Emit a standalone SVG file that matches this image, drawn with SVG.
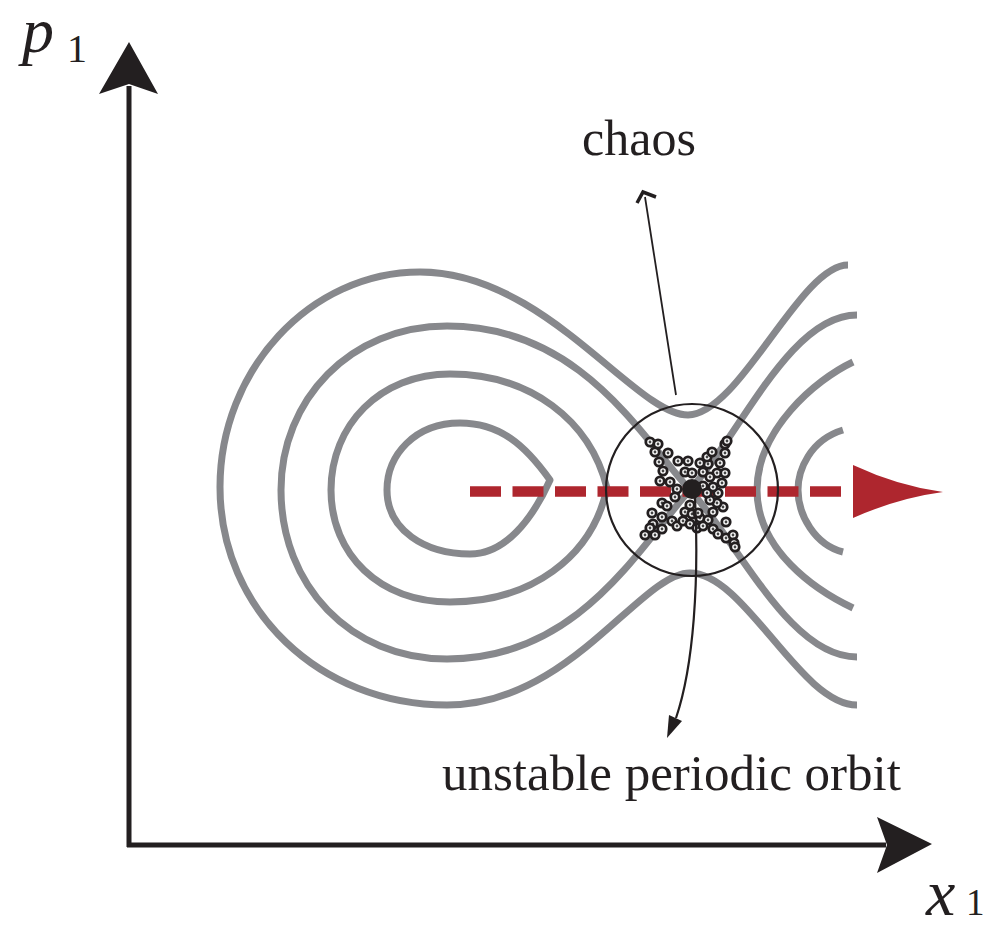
<svg xmlns="http://www.w3.org/2000/svg" xmlns:xlink="http://www.w3.org/1999/xlink" width="990" height="941" viewBox="0 0 990 941">
<style>
.orbit{fill:none;stroke:#87888c;stroke-width:7;stroke-linecap:butt;stroke-linejoin:round}
.axis{fill:none;stroke:#231f20;stroke-width:5}
.lbl{font-family:"Liberation Serif","Times New Roman",serif;fill:#231f20}
</style>
<defs>
<g id="m"><circle r="4.2" fill="#fff" stroke="#231f20" stroke-width="2.8"/><circle r="1.4" fill="#444"/></g>
</defs>
<rect width="990" height="941" fill="#fff"/>
<g id="orbits">
<path class="orbit" d="M848,265 C800,265 740,414 688,415 C635,415 545,272 420,272 C310,272 220,370 220,487 C220,610 320,705 447,705 C570,705 640,573 690,573 C745,573 800,705 857,705"/>
<path class="orbit" d="M690,490 C640,435 580,326 447,326 C350,326 281,400 281,490 C281,585 350,659 447,659 C580,659 640,545 690,490 Z"/>
<path class="orbit" d="M690,490 C740,435 790,315 857,315"/>
<path class="orbit" d="M690,490 C740,545 790,657 857,657"/>
<path class="orbit" d="M607,488 C590,420 530,374 450,374 C380,374 331,425 331,490 C331,555 380,602 450,602 C530,602 592,558 607,488 Z"/>
<path class="orbit" d="M550,480 C525,445 500,423 460,423 C415,423 387,455 387,490 C387,530 425,554 470,554 C505,554 532,520 550,480 Z"/>
<path class="orbit" d="M843,430 C810,440 798,470 798,490 C798,515 815,545 843,552"/>
<path class="orbit" d="M853,362 C815,380 757,430 757,490 C757,550 815,590 853,608"/>
</g>
<g id="flow-arrow">
<line x1="470" y1="491.5" x2="852" y2="491.5" stroke="#ae262e" stroke-width="10.5" stroke-dasharray="31 11.5"/>
<path d="M853,465 Q898,486 943,492 Q898,498 853,518 Z" fill="#ae262e"/>
</g>
<g id="region">
<circle cx="692" cy="490" r="86" fill="none" stroke="#231f20" stroke-width="2.2"/>
</g>
<g id="chaos-points">
<use xlink:href="#m" x="650" y="442"/><use xlink:href="#m" x="658" y="444"/><use xlink:href="#m" x="655" y="452"/><use xlink:href="#m" x="668" y="453"/>
<use xlink:href="#m" x="659" y="462"/><use xlink:href="#m" x="678" y="461"/><use xlink:href="#m" x="688" y="461"/><use xlink:href="#m" x="663" y="471"/>
<use xlink:href="#m" x="685" y="472"/><use xlink:href="#m" x="692" y="473"/><use xlink:href="#m" x="660" y="481"/><use xlink:href="#m" x="670" y="482"/>
<use xlink:href="#m" x="677" y="489"/><use xlink:href="#m" x="675" y="497"/><use xlink:href="#m" x="662" y="503"/><use xlink:href="#m" x="667" y="506"/>
<use xlink:href="#m" x="652" y="513"/><use xlink:href="#m" x="662" y="517"/><use xlink:href="#m" x="653" y="524"/><use xlink:href="#m" x="650" y="528"/>
<use xlink:href="#m" x="662" y="529"/><use xlink:href="#m" x="645" y="535"/><use xlink:href="#m" x="655" y="535"/><use xlink:href="#m" x="672" y="521"/>
<use xlink:href="#m" x="677" y="526"/><use xlink:href="#m" x="683" y="521"/><use xlink:href="#m" x="685" y="512"/><use xlink:href="#m" x="690" y="505"/>
<use xlink:href="#m" x="692" y="514"/><use xlink:href="#m" x="690" y="524"/><use xlink:href="#m" x="697" y="528"/><use xlink:href="#m" x="700" y="518"/>
<use xlink:href="#m" x="708" y="520"/><use xlink:href="#m" x="703" y="526"/><use xlink:href="#m" x="713" y="529"/><use xlink:href="#m" x="718" y="534"/>
<use xlink:href="#m" x="726" y="538"/><use xlink:href="#m" x="733" y="535"/><use xlink:href="#m" x="734" y="543"/><use xlink:href="#m" x="735" y="547"/>
<use xlink:href="#m" x="726" y="522"/><use xlink:href="#m" x="723" y="507"/><use xlink:href="#m" x="713" y="512"/><use xlink:href="#m" x="717" y="503"/>
<use xlink:href="#m" x="710" y="500"/><use xlink:href="#m" x="718" y="493"/><use xlink:href="#m" x="713" y="487"/><use xlink:href="#m" x="722" y="483"/>
<use xlink:href="#m" x="717" y="473"/><use xlink:href="#m" x="725" y="473"/><use xlink:href="#m" x="720" y="463"/><use xlink:href="#m" x="708" y="464"/>
<use xlink:href="#m" x="700" y="463"/><use xlink:href="#m" x="707" y="457"/><use xlink:href="#m" x="712" y="452"/><use xlink:href="#m" x="725" y="453"/>
<use xlink:href="#m" x="725" y="444"/><use xlink:href="#m" x="727" y="441"/><use xlink:href="#m" x="703" y="472"/><use xlink:href="#m" x="710" y="477"/>
<use xlink:href="#m" x="703" y="486"/><use xlink:href="#m" x="707" y="493"/><use xlink:href="#m" x="698" y="513"/>
</g>
<g id="orbit-point">
<circle cx="692" cy="489" r="10" fill="#231f20"/>
</g>
<g id="connectors">
<path d="M676,395 L645,197" fill="none" stroke="#231f20" stroke-width="1.8"/>
<polyline points="637,203 643,192 656,197" fill="none" stroke="#231f20" stroke-width="3.5"/>
<path d="M695,498 C699,580 694,665 676,718" fill="none" stroke="#231f20" stroke-width="2.2"/>
<path d="M667,738 L682,721 L669,715 Z" fill="#231f20"/>
</g>
<g id="axes">
<line class="axis" x1="129" y1="86" x2="129" y2="847"/>
<line class="axis" x1="127" y1="845" x2="886" y2="845"/>
<path d="M129,42 L158,94 L129,84 L99,94 Z" fill="#231f20"/>
<path d="M932,844 L877,873 L887,845 L877,817 Z" fill="#231f20"/>
</g>
<g id="labels">
<text class="lbl" x="22" y="52" font-size="64" font-style="italic">p</text>
<text class="lbl" x="67" y="62" font-size="40">1</text>
<text class="lbl" x="926" y="915" font-size="66" font-style="italic">x</text>
<text class="lbl" x="966" y="915" font-size="37">1</text>
<text class="lbl" x="582" y="155" font-size="50">chaos</text>
<text class="lbl" x="442" y="790" font-size="51">unstable periodic orbit</text>
</g>
</svg>
